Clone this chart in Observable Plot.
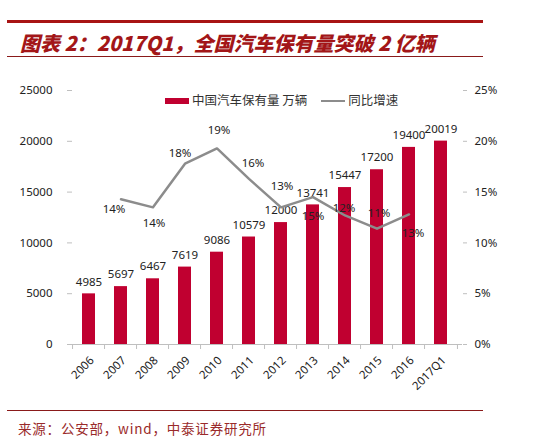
<!DOCTYPE html>
<html><head><meta charset="utf-8">
<script src="https://cdn.jsdelivr.net/npm/d3@7"></script>
<script src="https://cdn.jsdelivr.net/npm/@observablehq/plot@0.6"></script>
<style>
body{margin:0;background:#fff;width:553px;height:444px;position:relative;overflow:hidden;font-family:"Noto Sans","Noto Sans CJK SC",sans-serif;}
.abs{position:absolute;}
#title{left:20px;top:30px;font-family:"Noto Sans CJK SC",sans-serif;font-weight:900;font-style:italic;font-size:20px;color:#a31618;white-space:nowrap;line-height:26px;}
#src{left:18px;top:419px;font-family:"Noto Sans CJK SC",sans-serif;font-size:13.5px;color:#9a2a2a;white-space:nowrap;line-height:18px;letter-spacing:0.8px;}
#legend{left:165px;top:91px;font-family:"Noto Sans CJK SC",sans-serif;font-size:12.5px;color:#333;white-space:nowrap;line-height:18px;z-index:2;}
#chart{left:0;top:60px;}
</style></head><body>
<div class="abs" style="left:7px;top:20px;width:476px;height:3px;background:#a81414"></div>
<div class="abs" id="title">图表 2：2017Q1，全国汽车保有量突破 2 亿辆</div>
<div class="abs" style="left:7px;top:56px;width:476px;height:1px;background:#8a1a1a"></div>
<div class="abs" id="legend"><span style="display:inline-block;width:24px;height:6px;background:#c00030;vertical-align:middle;margin-right:3px;position:relative;top:-1px"></span>中国汽车保有量 万辆<span style="display:inline-block;width:24px;height:2px;background:#8c8c8c;vertical-align:middle;margin-left:14px;margin-right:3px;position:relative;top:-1px"></span>同比增速</div>
<div class="abs" id="chart"></div>
<div class="abs" style="left:7px;top:410px;width:476px;height:1px;background:#8a1a1a"></div>
<div class="abs" id="src">来源：公安部，wind，中泰证券研究所</div>
<script>
const years = ["2006","2007","2008","2009","2010","2011","2012","2013","2014","2015","2016","2017Q1"];
const stock = [4985,5697,6467,7619,9086,10579,12000,13741,15447,17200,19400,20019];
const growthYears = ["2007","2008","2009","2010","2011","2012","2013","2014","2015","2016"];
const growth = [14.3,13.5,17.8,19.3,16.3,13.5,14.5,12.7,11.4,12.8];
const growthLabels = ["14%","14%","18%","19%","16%","13%","15%","12%","11%","13%"];
const leftTicks = [0,5000,10000,15000,20000,25000];
const rightTicks = [0,5,10,15,20,25];

const W = 553, H = 350, ML = 67, MR = 91, MT = 30, MB = 66;
const step = (W - ML - MR) / years.length;
const pctScale = 1000; // 25% maps onto 25000 of the left axis

const bars = years.map((y, i) => ({year: y, value: stock[i]}));
const line = growthYears.map((y, i) => ({year: y, pct: growth[i], label: growthLabels[i]}));
// label placement (pixel offsets, as in the reference)
const place = {"2007":[-7,10],"2008":[1,16],"2009":[-5,-10],"2010":[2,-18],"2011":[4,-16],"2012":[1,-21],"2013":[0,19],"2014":[-1,-7],"2015":[2,-15],"2016":[4,19]};

const font = '"Noto Sans","Noto Sans CJK SC",sans-serif';
const labelMarks = line.map(d => Plot.text([d], {x: "year", y: v => v.pct * pctScale, text: "label", dx: place[d.year][0], dy: place[d.year][1], fontSize: 11.5, fill: "#222"}));

const chart = Plot.plot({
  width: W, height: H,
  marginLeft: ML, marginRight: MR, marginTop: MT, marginBottom: MB,
  style: {fontFamily: font, fontSize: "11.5px", color: "#222", background: "transparent"},
  x: {type: "band", domain: years, paddingInner: 0.6, paddingOuter: 0.3, label: null},
  y: {domain: [0, 25000], label: null},
  marks: [
    Plot.barY(bars, {x: "year", y: "value", fill: "#c00030"}),
    Plot.text(bars, {x: "year", y: "value", text: d => String(d.value), dy: -12, fontSize: 11.5, fill: "#222"}),
    Plot.line(line, {x: "year", y: d => d.pct * pctScale, stroke: "#8c8c8c", strokeWidth: 2.5}),
    ...labelMarks,
    Plot.ruleY([0], {stroke: "#bfbfbf"}),
    Plot.axisY({anchor: "left", ticks: leftTicks, tickFormat: d => String(d), tickSize: -5, tickPadding: 20, stroke: "#bfbfbf", fontSize: 11.5, line: true, label: null}),
    Plot.axisY({anchor: "right", ticks: rightTicks.map(t => t * pctScale), tickFormat: d => (d / pctScale) + "%", tickSize: 4, tickPadding: 8, stroke: "#bfbfbf", fontSize: 11.5, line: true, label: null}),
    Plot.axisX({tickSize: 0, tickRotate: -45, tickPadding: 14, dx: 3, fontSize: 11.5, label: null}),
    Plot.axisX({tickSize: 5, tickFormat: () => "", dx: -step / 2, stroke: "#bfbfbf", label: null}),
    Plot.axisX({ticks: [years[years.length - 1]], tickSize: 5, tickFormat: () => "", dx: step / 2, stroke: "#bfbfbf", label: null})
  ]
});
document.getElementById("chart").appendChild(chart);
</script>
</body></html>
